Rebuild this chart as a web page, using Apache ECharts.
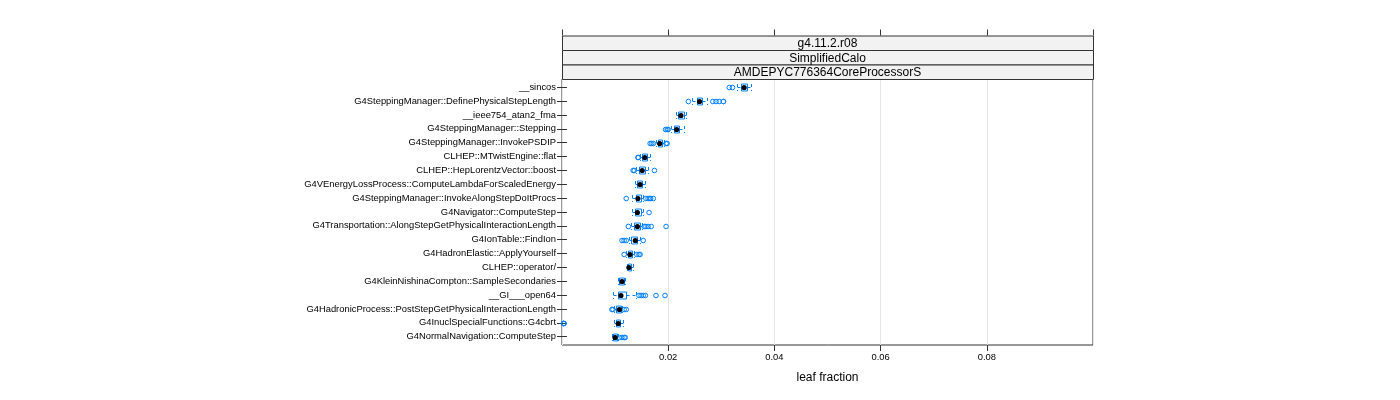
<!DOCTYPE html>
<html>
<head>
<meta charset="utf-8">
<script src="https://cdn.jsdelivr.net/npm/echarts@6/dist/echarts.min.js"></script>
<style>html,body{margin:0;padding:0;background:#fff}#c{width:1400px;height:400px}</style>
</head>
<body>
<div id="c"></div>
<script>
// categories listed top to bottom
const categories = ['__sincos','G4SteppingManager::DefinePhysicalStepLength','__ieee754_atan2_fma','G4SteppingManager::Stepping','G4SteppingManager::InvokePSDIP','CLHEP::MTwistEngine::flat','CLHEP::HepLorentzVector::boost','G4VEnergyLossProcess::ComputeLambdaForScaledEnergy','G4SteppingManager::InvokeAlongStepDoItProcs','G4Navigator::ComputeStep','G4Transportation::AlongStepGetPhysicalInteractionLength','G4IonTable::FindIon','G4HadronElastic::ApplyYourself','CLHEP::operator/','G4KleinNishinaCompton::SampleSecondaries','__GI___open64','G4HadronicProcess::PostStepGetPhysicalInteractionLength','G4InuclSpecialFunctions::G4cbrt','G4NormalNavigation::ComputeStep'];
const whiskerLow  = [0.0330,0.0245,0.0215,0.0206,0.0177,0.0147,0.0140,0.0138,0.0132,0.0132,0.0130,0.0126,0.0121,0.0123,0.0106,0.0096,0.0098,0.0098,0.0094];
const quartile1   = [0.0338,0.0255,0.0219,0.0211,0.0181,0.0151,0.0145,0.0142,0.0140,0.0138,0.0136,0.0130,0.0125,0.0125,0.0108,0.0106,0.0102,0.0102,0.0096];
const medians     = [0.0343,0.0259,0.0224,0.0216,0.0184,0.0156,0.0151,0.0147,0.0143,0.0142,0.0142,0.0138,0.0128,0.0126,0.0113,0.0111,0.0108,0.0106,0.0100];
const quartile3   = [0.0349,0.0264,0.0230,0.0221,0.0189,0.0160,0.0157,0.0151,0.0149,0.0149,0.0147,0.0142,0.0132,0.0130,0.0117,0.0121,0.0111,0.0109,0.0104];
const whiskerHigh = [0.0356,0.0274,0.0234,0.0230,0.0192,0.0166,0.0162,0.0157,0.0153,0.0152,0.0151,0.0147,0.0136,0.0134,0.0119,0.0140,0.0113,0.0115,0.0106];
const outliers = [
  [0.0315,0.0321],
  [0.0238,0.0284,0.0290,0.0296,0.0304,0.0304],
  [],
  [0.0195,0.0198,0.0200],
  [0.0166,0.0169,0.0172,0.0196,0.0198],
  [0.0143,0.0144],
  [0.0134,0.0136,0.0174],
  [],
  [0.0121,0.0158,0.0162,0.0165,0.0167,0.0172],
  [0.0164],
  [0.0125,0.0155,0.0158,0.0162,0.0168,0.0196],
  [0.0113,0.0117,0.0121,0.0153],
  [0.0117,0.0141,0.0145,0.0147],
  [],
  [],
  [0.0145,0.0149,0.0153,0.0157,0.0177,0.0194],
  [0.0094,0.0096,0.0117,0.0121],
  [0.0003,0.0003,0.0003,0.0004],
  [0.0108,0.0113,0.0117,0.0119]
];
const stripLabels = ['g4.11.2.r08','SimplifiedCalo','AMDEPYC776364CoreProcessorS'];

const FONT = '"Liberation Sans", Arial, Helvetica, sans-serif';
const BLUE = '#0080ff';
const FRAME = '#333333';
const n = categories.length;
const G = {left:562, right:1093, top:79, bottom:345};
const stripH = 14.5;

const chart = echarts.init(document.getElementById('c'), null, {renderer:'canvas'});

const yVals = categories.map((_, i) => n - i);
const yName = {};
categories.forEach((c, i) => { yName[n - i] = c; });

function renderItem(params, api) {
  const i = api.value(0);
  const y = n - i;
  const band = api.size([0, 1])[1];
  const h = band * 0.5;
  const cy = Math.round(api.coord([0, y])[1]) + 0.5;
  const px = v => Math.round(api.coord([v, y])[0]) + 0.5;
  const xLo = px(whiskerLow[i]), xQ1 = px(quartile1[i]), xMed = api.coord([medians[i], y])[0];
  const xQ3 = px(quartile3[i]), xHi = px(whiskerHigh[i]);
  const dashStyle = {stroke: BLUE, lineWidth: 1, lineDash: [3, 3], fill: null};
  const solid = {stroke: BLUE, lineWidth: 1, fill: null};
  const kids = [];
  kids.push({type:'line', shape:{x1:xLo, y1:cy, x2:xQ1, y2:cy}, style:dashStyle});
  kids.push({type:'line', shape:{x1:xQ3, y1:cy, x2:xHi, y2:cy}, style:dashStyle});
  kids.push({type:'line', shape:{x1:xLo, y1:cy-h/2, x2:xLo, y2:cy+h/2}, style:dashStyle});
  kids.push({type:'line', shape:{x1:xHi, y1:cy-h/2, x2:xHi, y2:cy+h/2}, style:dashStyle});
  kids.push({type:'rect', shape:{x:xQ1, y:cy-h/2, width:xQ3-xQ1, height:h}, style:solid});
  outliers[i].forEach(v => {
    kids.push({type:'circle', shape:{cx: api.coord([v, y])[0], cy: cy, r: 2.3}, style:{stroke: BLUE, lineWidth: 1, fill: null}});
  });
  kids.push({type:'circle', shape:{cx: xMed, cy: cy, r: 2.6}, style:{fill:'#000', stroke:null}});
  return {type:'group', children: kids};
}

const graphics = [];
stripLabels.forEach((t, k) => {
  const top = G.top - stripH * (3 - k);
  graphics.push({type:'rect', shape:{x:G.left+0.5, y:top+0.5, width:G.right-G.left, height:stripH}, style:{fill:'#f2f2f2', stroke:FRAME, lineWidth:1}, z:10});
  graphics.push({type:'text', x:(G.left+G.right)/2, y:top+stripH/2+1, style:{text:t, font:'12px ' + FONT, fill:'#000', textAlign:'center', textVerticalAlign:'middle'}, z:11});
});

const option = {
  animation: false,
  backgroundColor: '#fff',
  grid: {left:G.left, top:G.top, width:G.right-G.left, height:G.bottom-G.top, show:true, borderColor:FRAME, borderWidth:1, backgroundColor:'transparent', containLabel:false},
  xAxis: [{
    type:'value', min:0, max:0.1, interval:0.02, position:'bottom',
    axisLine:{show:false},
    axisTick:{show:true, length:6, inside:false, lineStyle:{color:FRAME}},
    axisLabel:{show:true, fontSize:9.4, fontFamily:FONT, color:'#000', margin:8, showMinLabel:false, showMaxLabel:false, formatter: v => String(Number(v.toFixed(2)))},
    splitLine:{show:true, lineStyle:{color:'#e6e6e6', width:1}},
    name:'leaf fraction', nameLocation:'middle', nameGap:27,
    nameTextStyle:{fontSize:12, fontFamily:FONT, color:'#000'}
  },{
    type:'value', min:0, max:0.1, interval:0.02, position:'top', offset: stripH*3,
    axisLine:{show:false},
    axisTick:{show:true, length:6, lineStyle:{color:FRAME}},
    axisLabel:{show:false}, splitLine:{show:false}
  }],
  yAxis: [{
    type:'value', min:0.4, max:n+0.6, position:'left',
    axisLine:{show:false},
    axisTick:{show:true, length:5, customValues:yVals, lineStyle:{color:FRAME}},
    axisLabel:{show:true, customValues:yVals, fontSize:9.4, fontFamily:FONT, color:'#000', margin:6, formatter: v => yName[Math.round(v)] || ''},
    splitLine:{show:false}
  },{
    type:'value', min:0.4, max:n+0.6, position:'right',
    axisLine:{show:false},
    axisTick:{show:true, length:5, customValues:yVals, lineStyle:{color:FRAME}},
    axisLabel:{show:false}, splitLine:{show:false}
  }],
  graphic: graphics,
  series: [{
    type:'custom', xAxisIndex:0, yAxisIndex:0,
    renderItem: renderItem,
    data: categories.map((_, i) => [i]),
    encode:{x:-1, y:-1},
    clip:false, z:5
  }]
};
chart.setOption(option);
</script>
</body>
</html>
